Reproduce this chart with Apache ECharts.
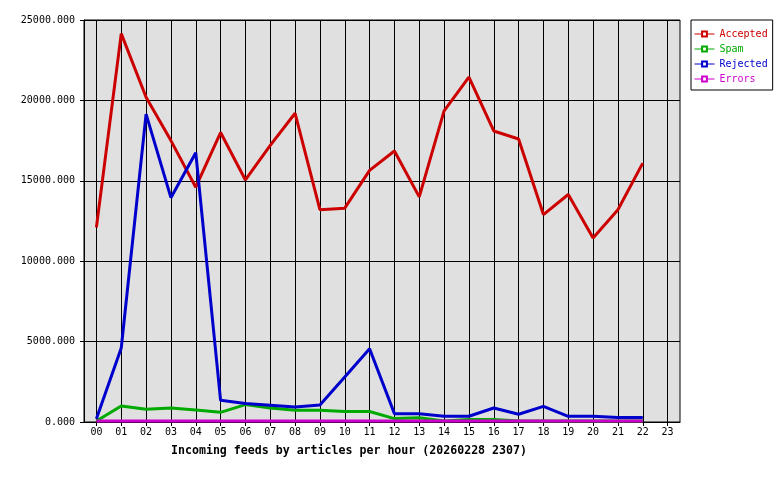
<!DOCTYPE html>
<html>
<head>
<meta charset="utf-8">
<script src="https://cdn.jsdelivr.net/npm/echarts@6/dist/echarts.min.js"></script>
<style>
  html, body { margin: 0; padding: 0; background: #fff; }
  #chart { width: 780px; height: 480px; }
</style>
</head>
<body>
<div id="chart"></div>
<script>
// hours of the day
const hours = ['00', '01', '02', '03', '04', '05', '06', '07', '08', '09', '10', '11',
  '12', '13', '14', '15', '16', '17', '18', '19', '20', '21', '22', '23']
const accepted = [12100, 24150, 20200, 17500, 14600, 18000, 15050, 17200, 19200, 13200, 13300, 15650,
  16850, 14000, 19350, 21450, 18100, 17600, 12900, 14150, 11450, 13200, 16100, null]
const spam = [60, 1000, 790, 870, 750, 600, 1080, 870, 730, 730, 650, 650,
  210, 270, 60, 150, 150, 60, 60, 60, 60, 60, 60, null]
const rejected = [200, 4600, 19150, 13950, 16750, 1350, 1145, 1040, 930, 1060, 2800, 4550,
  520, 520, 355, 355, 870, 480, 975, 355, 355, 275, 275, null]
const errors = [60, 60, 60, 60, 60, 60, 60, 60, 60, 60, 60, 60,
  60, 60, 60, 60, 60, 60, 60, 60, 60, 60, 60, null]
const seriesNames = ['Accepted', 'Spam', 'Rejected', 'Errors']
const seriesColors = ['#cc0000', '#00aa00', '#0000cc', '#cc00cc']
const titleText = 'Incoming feeds by articles per hour (20260228 2307)'

const mono = 'DejaVu Sans Mono'
const chart = echarts.init(document.getElementById('chart'), null, {renderer: 'canvas'})

function lineSeries(name, data, color) {
  return {
    name: name,
    type: 'line',
    data: data,
    symbol: 'emptyRect',
    showSymbol: false,
    animation: false,
    clip: false,
    color: color,
    lineStyle: {color: color, width: 3},
    itemStyle: {color: color}
  }
}

const values = [accepted, spam, rejected, errors]

chart.setOption({
  animation: false,
  title: {
    text: titleText,
    left: 171,
    top: 445,
    padding: 0,
    textStyle: {fontFamily: mono, fontSize: 11.6, fontWeight: 'bold', color: '#000'}
  },
  legend: {
    orient: 'vertical',
    left: 691,
    top: 20,
    padding: [9, 5, 6, 3],
    itemWidth: 20,
    itemHeight: 6,
    itemGap: 5,
    backgroundColor: '#fff',
    borderColor: '#000',
    borderWidth: 1,
    borderRadius: 0,
    lineStyle: {width: 1},
    textStyle: {fontFamily: mono, fontSize: 10, lineHeight: 10},
    data: seriesNames.map((n, i) => ({name: n, textStyle: {color: seriesColors[i]}}))
  },
  grid: {
    left: 84, right: 100, top: 20, bottom: 58,
    show: true,
    backgroundColor: '#e0e0e0',
    borderColor: '#000',
    borderWidth: 1
  },
  xAxis: {
    type: 'category',
    data: hours,
    boundaryGap: true,
    axisLine: {lineStyle: {color: '#000', width: 1}},
    axisTick: {show: true, alignWithLabel: true, length: 4, lineStyle: {color: '#000'}},
    splitLine: {show: true, alignWithLabel: true, lineStyle: {color: '#000', width: 1}},
    axisLabel: {fontFamily: mono, fontSize: 10, color: '#000', margin: 5, interval: 0}
  },
  yAxis: {
    type: 'value',
    min: 0,
    max: 25000,
    interval: 5000,
    axisLine: {show: true, lineStyle: {color: '#000', width: 1}},
    axisTick: {show: true, length: 4, lineStyle: {color: '#000'}},
    splitLine: {show: true, lineStyle: {color: '#000', width: 1}},
    axisLabel: {
      fontFamily: mono, fontSize: 10, color: '#000', margin: 9,
      formatter: v => v.toFixed(3)
    }
  },
  series: seriesNames.map((n, i) => lineSeries(n, values[i], seriesColors[i]))
})
</script>
</body>
</html>
